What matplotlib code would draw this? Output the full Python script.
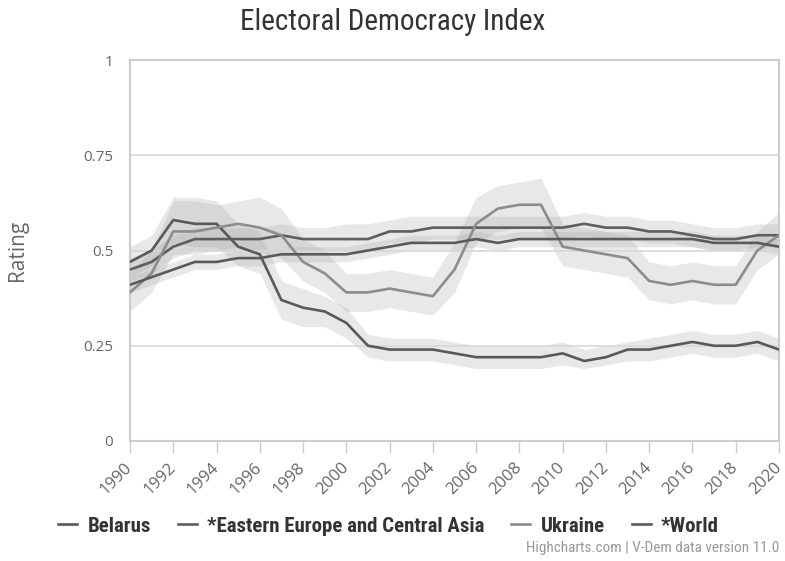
import matplotlib
matplotlib.use("Agg")
import matplotlib.pyplot as plt
import matplotlib.font_manager as fm

years = list(range(1990, 2021))

belarus = [0.47, 0.50, 0.58, 0.57, 0.57, 0.51, 0.49, 0.37, 0.35, 0.34, 0.31,
           0.25, 0.24, 0.24, 0.24, 0.23, 0.22, 0.22, 0.22, 0.22, 0.23,
           0.21, 0.22, 0.24, 0.24, 0.25, 0.26, 0.25, 0.25, 0.26, 0.24]
belarus_lo = [0.43, 0.46, 0.52, 0.51, 0.51, 0.46, 0.44, 0.32, 0.30, 0.30, 0.27,
              0.22, 0.21, 0.21, 0.21, 0.20, 0.19, 0.19, 0.19, 0.19, 0.20,
              0.19, 0.20, 0.21, 0.21, 0.22, 0.23, 0.22, 0.22, 0.23, 0.21]
belarus_hi = [0.51, 0.54, 0.64, 0.64, 0.63, 0.57, 0.55, 0.42, 0.40, 0.38, 0.35,
              0.28, 0.27, 0.27, 0.27, 0.26, 0.25, 0.25, 0.25, 0.25, 0.26,
              0.24, 0.25, 0.26, 0.27, 0.28, 0.29, 0.28, 0.28, 0.29, 0.27]

eeca = [0.45, 0.47, 0.51, 0.53, 0.53, 0.53, 0.53, 0.54, 0.53, 0.53, 0.53,
        0.53, 0.55, 0.55, 0.56, 0.56, 0.56, 0.56, 0.56, 0.56, 0.56,
        0.57, 0.56, 0.56, 0.55, 0.55, 0.54, 0.53, 0.53, 0.54, 0.54]
eeca_lo = [0.42, 0.44, 0.48, 0.50, 0.50, 0.50, 0.50, 0.51, 0.50, 0.50, 0.50,
           0.50, 0.52, 0.52, 0.53, 0.53, 0.53, 0.53, 0.53, 0.53, 0.53,
           0.54, 0.53, 0.53, 0.52, 0.52, 0.51, 0.50, 0.50, 0.51, 0.51]
eeca_hi = [0.48, 0.50, 0.54, 0.56, 0.56, 0.56, 0.56, 0.57, 0.56, 0.56, 0.57,
           0.57, 0.58, 0.59, 0.59, 0.59, 0.59, 0.59, 0.59, 0.59, 0.59,
           0.60, 0.59, 0.59, 0.58, 0.58, 0.57, 0.56, 0.56, 0.57, 0.57]

ukraine = [0.39, 0.44, 0.55, 0.55, 0.56, 0.57, 0.56, 0.54, 0.47, 0.44, 0.39,
           0.39, 0.40, 0.39, 0.38, 0.45, 0.57, 0.61, 0.62, 0.62, 0.51,
           0.50, 0.49, 0.48, 0.42, 0.41, 0.42, 0.41, 0.41, 0.50, 0.54]
ukraine_lo = [0.34, 0.39, 0.49, 0.49, 0.50, 0.51, 0.50, 0.48, 0.42, 0.39, 0.34,
              0.34, 0.35, 0.34, 0.33, 0.39, 0.52, 0.55, 0.56, 0.56, 0.46,
              0.45, 0.44, 0.43, 0.37, 0.36, 0.37, 0.36, 0.36, 0.45, 0.49]
ukraine_hi = [0.44, 0.50, 0.63, 0.63, 0.62, 0.63, 0.64, 0.61, 0.53, 0.50, 0.44,
              0.44, 0.45, 0.44, 0.43, 0.52, 0.64, 0.67, 0.68, 0.69, 0.57,
              0.56, 0.55, 0.54, 0.47, 0.46, 0.47, 0.46, 0.46, 0.55, 0.60]

world = [0.41, 0.43, 0.45, 0.47, 0.47, 0.48, 0.48, 0.49, 0.49, 0.49, 0.49,
         0.50, 0.51, 0.52, 0.52, 0.52, 0.53, 0.52, 0.53, 0.53, 0.53,
         0.53, 0.53, 0.53, 0.53, 0.53, 0.53, 0.52, 0.52, 0.52, 0.51]
world_lo = [0.39, 0.41, 0.43, 0.45, 0.45, 0.46, 0.46, 0.47, 0.47, 0.47, 0.47,
            0.48, 0.49, 0.50, 0.50, 0.50, 0.51, 0.50, 0.51, 0.51, 0.51,
            0.51, 0.51, 0.51, 0.51, 0.51, 0.51, 0.50, 0.50, 0.50, 0.49]
world_hi = [0.43, 0.45, 0.47, 0.49, 0.49, 0.50, 0.50, 0.51, 0.51, 0.51, 0.51,
            0.52, 0.53, 0.54, 0.54, 0.54, 0.55, 0.54, 0.55, 0.55, 0.55,
            0.55, 0.55, 0.55, 0.55, 0.55, 0.55, 0.54, 0.54, 0.54, 0.53]

names = ["Belarus", "*Eastern Europe and Central Asia", "Ukraine", "*World"]
colors = ["#595959", "#5e5e5e", "#8c8c8c", "#5a5a5a"]

# condensed face for title/legend/credits, plain sans for the axes
installed = {f.name for f in fm.fontManager.ttflist}
narrow = "DejaVu Sans"
for cand in ["Roboto Condensed", "Liberation Sans Narrow", "Open Sans Condensed",
             "Lato", "Roboto"]:
    if cand in installed:
        narrow = cand
        break
plain = "Open Sans" if "Open Sans" in installed else "DejaVu Sans"
plt.rcParams["font.family"] = [narrow, "DejaVu Sans"]

fig = plt.figure(figsize=(7.85, 5.61), dpi=100)
ax = fig.add_axes([130 / 785, 1 - 441 / 561, 649 / 785, 381 / 561])

series = [(belarus, belarus_lo, belarus_hi), (eeca, eeca_lo, eeca_hi),
          (ukraine, ukraine_lo, ukraine_hi), (world, world_lo, world_hi)]

for (vals, lo, hi), name, c in zip(series, names, colors):
    ax.fill_between(years, lo, hi, color="#a8a8a8", alpha=0.26, lw=0, zorder=1)
for (vals, lo, hi), name, c in zip(series, names, colors):
    ax.plot(years, vals, color=c, lw=1.9, label=name, zorder=3)

ax.set_xlim(1990, 2020)
ax.set_ylim(0, 1)
ax.set_yticks([0, 0.25, 0.5, 0.75, 1])
ax.set_yticklabels(["0", "0.25", "0.5", "0.75", "1"], family=plain)
ax.set_xticks(years[::2])
ax.set_xticklabels([str(y) for y in years[::2]], rotation=45, ha="right",
                   va="center", rotation_mode="anchor", family=plain)
ax.grid(axis="y", color="#d8d8d8", lw=1.2, zorder=0)
for s in ax.spines.values():
    s.set_color("#cccccc")
    s.set_linewidth(1.5)
ax.tick_params(axis="y", length=0, pad=12, labelsize=11, labelcolor="#666666")
ax.tick_params(axis="x", length=8.5, width=1, color="#cccccc", pad=9,
               labelsize=12, labelcolor="#666666")
ax.set_ylabel("Rating", fontsize=15, color="#666666", labelpad=40, family=plain)

fig.text(0.5, 1 - 22 / 561, "Electoral Democracy Index", ha="center",
         va="center", fontsize=21, color="#333333")

fig.legend(loc="center", bbox_to_anchor=(0.495, 1 - 526 / 561), ncol=4,
           frameon=False, handlelength=0.9, columnspacing=1.3,
           handletextpad=0.5, prop={"weight": "bold", "size": 15},
           labelcolor="#333333")

fig.text(779 / 785, 1 - 548 / 561, "Highcharts.com | V-Dem data version 11.0",
         ha="right", va="center", fontsize=11, color="#999999")

fig.savefig("out.png", dpi=100)
